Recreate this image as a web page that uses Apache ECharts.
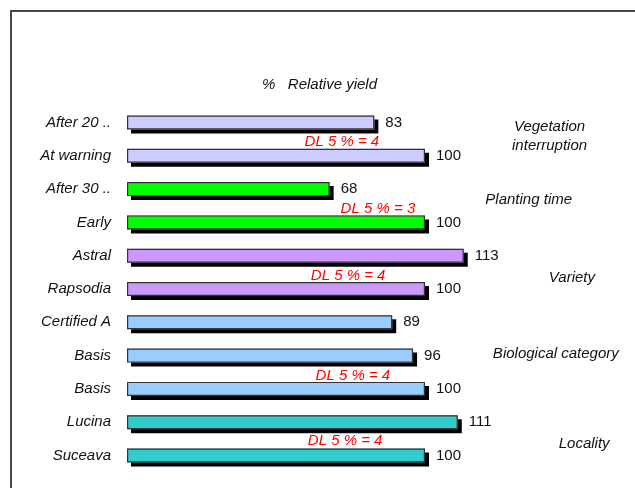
<!DOCTYPE html>
<html>
<head>
<meta charset="utf-8">
<script src="https://cdn.jsdelivr.net/npm/echarts@6/dist/echarts.min.js"></script>
<style>
html,body{margin:0;padding:0;background:#fff;}
#chart{width:635px;height:488px;}
</style>
</head>
<body>
<div id="chart"></div>
<script>
// ---- data ----
var categories = ['After 20 ..', 'At warning', 'After 30 ..', 'Early', 'Astral', 'Rapsodia',
                  'Certified A', 'Basis', 'Basis', 'Lucina', 'Suceava'];
var relativeYield = [83, 100, 68, 100, 113, 100, 89, 96, 100, 111, 100];
var groupOfCategory = [0, 0, 1, 1, 2, 2, 3, 3, 3, 4, 4];
var groupNames = ['Vegetation\ninterruption', 'Planting time', 'Variety', 'Biological category', 'Locality'];
// group label anchor in data units: [x value, row position]
var groupLabelPos = [[141.8, 0.42], [134.8, 2.33], [149.3, 4.67], [143.9, 6.95], [153.4, 9.65]];
var dlTexts = ['DL 5 % = 4', 'DL 5 % = 3', 'DL 5 % = 4', 'DL 5 % = 4', 'DL 5 % = 4'];
var dlPos = [[72.1, 0.59], [84.2, 2.6], [74.2, 4.6], [75.8, 7.61], [73.2, 9.56]];
var titleText = '%   Relative yield';

// ---- styles ----
var groupColors = ['#ccccff', '#00ff00', '#cc99ff', '#99ccff', '#33cccc'];
var FONT = 'Liberation Sans, Arial, sans-serif';
var TEXT = '#111111';

var fillData = relativeYield.map(function (v, i) {
  return { value: v, itemStyle: { color: groupColors[groupOfCategory[i]] } };
});
var groupData = groupNames.map(function (n, i) { return [groupLabelPos[i][0], groupLabelPos[i][1], n]; });
var dlData = dlTexts.map(function (t, i) { return [dlPos[i][0], dlPos[i][1], t]; });

var chart = echarts.init(document.getElementById('chart'), null, { renderer: 'canvas' });
chart.setOption({
  animation: false,
  backgroundColor: '#ffffff',
  title: {
    text: titleText,
    left: 257, top: 72,
    textStyle: { fontFamily: FONT, fontSize: 15, fontStyle: 'italic', fontWeight: 'normal', color: TEXT }
  },
  graphic: [{
    type: 'polyline',
    shape: { points: [[11, 500], [11, 11], [640, 11]] },
    style: { stroke: '#4a4a4a', lineWidth: 2, fill: null },
    silent: true
  }],
  grid: { left: 127, right: 7.36, top: 105.85, bottom: 15.85, containLabel: false },
  xAxis: { type: 'value', min: 0, max: 168, show: false },
  yAxis: [{
    type: 'category',
    data: categories,
    inverse: true,
    axisLine: { show: false },
    axisTick: { show: false },
    splitLine: { show: false },
    axisLabel: { margin: 16, fontFamily: FONT, fontSize: 15, fontStyle: 'italic', color: TEXT }
  }, {
    type: 'value', min: -0.5, max: 10.5, inverse: true, show: false
  }],
  series: [{
    // filled bar with hard drop shadow
    type: 'bar',
    data: fillData,
    barWidth: 14,
    silent: true,
    itemStyle: {
      borderWidth: 0,
      shadowColor: '#000000', shadowBlur: 0, shadowOffsetX: 4, shadowOffsetY: 4
    }
  }, {
    // outline on top, carrying the value labels
    type: 'bar',
    data: relativeYield,
    barWidth: 14,
    barGap: '-100%',
    silent: true,
    itemStyle: { color: 'rgba(0,0,0,0)', borderColor: '#333333', borderWidth: 1.2 },
    label: {
      show: true, position: 'right', distance: 11,
      fontFamily: FONT, fontSize: 15, color: TEXT
    }
  }, {
    type: 'scatter',
    yAxisIndex: 1,
    data: groupData,
    symbolSize: 0,
    silent: true,
    clip: false,
    itemStyle: { opacity: 1 },
    label: {
      show: true, position: 'inside',
      formatter: function (p) { return p.data[2]; },
      fontFamily: FONT, fontSize: 15, fontStyle: 'italic', color: TEXT, opacity: 1,
      lineHeight: 19, align: 'center', verticalAlign: 'middle'
    }
  }, {
    type: 'scatter',
    yAxisIndex: 1,
    data: dlData,
    symbolSize: 0,
    silent: true,
    clip: false,
    itemStyle: { opacity: 1 },
    label: {
      show: true, position: 'inside',
      formatter: function (p) { return p.data[2]; },
      fontFamily: FONT, fontSize: 15, fontStyle: 'italic', color: '#ff0000', opacity: 1,
      align: 'center', verticalAlign: 'middle'
    }
  }]
});
</script>
</body>
</html>
